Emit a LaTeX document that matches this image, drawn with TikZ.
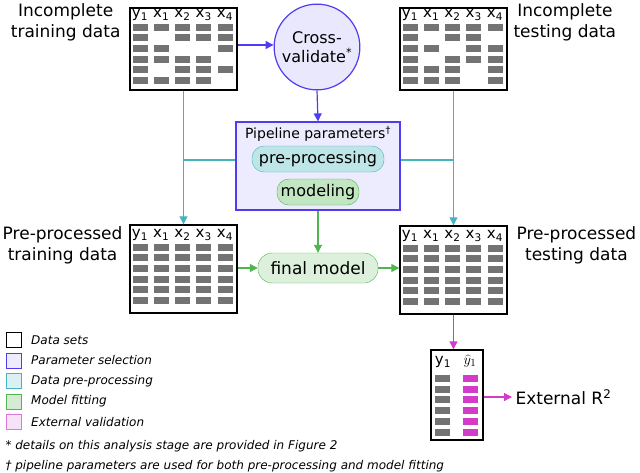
\documentclass[tikz,border=0pt]{standalone}
\usepackage{fontspec}
\setmainfont{DejaVu Sans}
\usetikzlibrary{positioning,arrows.meta,shapes.geometric}

\definecolor{cvblue}{RGB}{80,60,240}
\definecolor{ppcyan}{RGB}{70,180,190}
\definecolor{mfgreen}{RGB}{80,180,80}
\definecolor{evpink}{RGB}{210,60,200}

% grey cells of a data table, one entry per cell (1 = present)
\newcommand{\tablecells}[3]{%
  \foreach \row [count=\r] in {#3}{
    \foreach \v [count=\c] in \row {
      \ifnum\v=1
        \fill[cell] ({#1+10+(\c-1)*21.25-7.5},{#2+19+(\r-1)*10.7-3.5}) rectangle ++(15,7);
      \fi
    }
  }
}
\newcommand{\tablehead}[2]{%
  \foreach \h [count=\c] in {y\textsubscript{1},x\textsubscript{1},x\textsubscript{2},x\textsubscript{3},x\textsubscript{4}}
    \node[head] at ({#1+10+(\c-1)*21.25},{#2+7}) {\h};
}

\begin{document}
\begin{tikzpicture}[
    x=1pt, y=-1pt,
    dataset/.style={draw, line width=1.4pt, fill=white, minimum width=107pt, minimum height=82pt, inner sep=0pt},
    cell/.style={fill=black!55},
    head/.style={font=\fontsize{15}{16}\selectfont, inner sep=0pt},
    label/.style={font=\fontsize{17}{21}\selectfont, align=center},
    legend/.style={font=\fontsize{12}{14}\selectfont\itshape, anchor=west},
    legbox/.style={minimum size=15pt, inner sep=0pt, draw},
    oval/.style={rounded corners=12pt, draw, font=\fontsize{16}{18}\selectfont, inner sep=1pt},
    cvarrow/.style={-{Triangle[length=8pt,width=8pt]}, line width=1.2pt, cvblue},
    pparrow/.style={-{Triangle[length=8pt,width=8pt]}, line width=1.2pt, ppcyan},
    mfarrow/.style={-{Triangle[length=8pt,width=8pt]}, line width=1.2pt, mfgreen},
    evarrow/.style={-{Triangle[length=8pt,width=8pt]}, line width=1.2pt, evpink}
]
\useasboundingbox (0,0) rectangle (640,472);

% Data tables
\node[dataset] (train) at (183.5,49) {};
\tablehead{130}{8}
\tablecells{130}{8}{{1,1,1,1,1},{1,0,1,1,1},{1,1,0,0,1},{1,1,1,1,0},{1,0,1,1,1},{1,1,1,1,0}}
\node[dataset] (test) at (453.5,49) {};
\tablehead{400}{8}
\tablecells{400}{8}{{1,1,1,1,1},{1,0,1,1,0},{1,1,0,1,1},{1,0,1,1,1},{1,1,1,0,1},{1,1,1,0,1}}
\node[dataset, minimum height=88pt] (pptrain) at (183.5,269) {};
\tablehead{130}{228}
\tablecells{130}{228}{{1,1,1,1,1},{1,1,1,1,1},{1,1,1,1,1},{1,1,1,1,1},{1,1,1,1,1},{1,1,1,1,1}}
\node[dataset, minimum height=88pt] (pptest) at (453.5,270) {};
\tablehead{400}{229}
\tablecells{400}{229}{{1,1,1,1,1},{1,1,1,1,1},{1,1,1,1,1},{1,1,1,1,1},{1,1,1,1,1},{1,1,1,1,1}}

% Table labels
\node[label, anchor=east] at (124,22) {Incomplete\\training data};
\node[label, anchor=west] at (510,22) {Incomplete\\testing data};
\node[label, anchor=east] at (126,245) {Pre-processed\\training data};
\node[label, anchor=west] at (513,245) {Pre-processed\\testing data};

% Parameter selection
\node[circle, draw=cvblue, line width=1.2pt, fill=cvblue!12, minimum size=84pt, align=center,
      font=\fontsize{16}{19}\selectfont] (cv) at (317,47) {Cross-\\validate\textsuperscript{*}};
\node[draw=cvblue, line width=1.2pt, fill=cvblue!10, minimum width=164pt, minimum height=88pt] (pipe) at (318,166) {};
\node[font=\fontsize{14}{16}\selectfont, below=1pt of pipe.north] {Pipeline parameters\textsuperscript{\dag}};
\node[oval, draw=ppcyan, fill=ppcyan!35, minimum width=132pt, minimum height=26pt] (prep) at (318,159) {pre-processing};
\node[oval, draw=mfgreen, fill=mfgreen!35, minimum width=82pt, minimum height=26pt] (model) at (318,192) {modeling};
\node[oval, draw=mfgreen, fill=mfgreen!20, rounded corners=14pt, minimum width=120pt, minimum height=30pt,
      font=\fontsize{17}{19}\selectfont] (final) at (318,268) {final model};

% External validation table
\node[draw, line width=1.4pt, fill=white, minimum width=52pt, minimum height=90pt, inner sep=0pt] (pred) at (457,395) {};
\node[head] at (443,362) {y\textsubscript{1}};
\node[head] at (470,361) {$\widehat{y}_1$};
\foreach \r in {1,...,6}{
  \fill[cell] (435,{375+(\r-1)*10.7}) rectangle ++(15,7);
  \fill[evpink] (463,{375+(\r-1)*10.7}) rectangle ++(15,7);
}
\node[label, anchor=west] (r2) at (512,397) {External R\textsuperscript{2}};

% Connectors
\draw[cvarrow] (train.east |- 0,45) -- (cv.west |- 0,45);
\draw[cvarrow] (cv.south) -- (pipe.north);
\draw[pparrow] (train.south) -- (pptrain.north);
\draw[pparrow] (test.south) -- (pptest.north);
\draw[line width=1.2pt, ppcyan] (pipe.west |- 0,160) -- (train.south |- 0,160);
\draw[line width=1.2pt, ppcyan] (pipe.east |- 0,160) -- (test.south |- 0,160);
\draw[mfarrow] (pipe.south) -- (final.north);
\draw[mfarrow] (pptrain.east |- final) -- (final.west);
\draw[mfarrow] (final.east) -- (pptest.west |- final);
\draw[evarrow] (pptest.south) -- (pred.north -| pptest.south);
\draw[evarrow] (pred.east |- r2) -- (r2.west);

% Legend
\node[legbox, draw=black, fill=white] (l1) at (14,340) {};
\node[legbox, draw=cvblue, fill=cvblue!10, below=5pt of l1] (l2) {};
\node[legbox, draw=ppcyan, fill=ppcyan!20, below=5pt of l2] (l3) {};
\node[legbox, draw=mfgreen, fill=mfgreen!25, below=5pt of l3] (l4) {};
\node[legbox, draw=evpink!70, fill=evpink!15, below=5pt of l4] (l5) {};
\node[legend, right=6pt of l1] {Data sets};
\node[legend, right=6pt of l2] {Parameter selection};
\node[legend, right=6pt of l3] {Data pre-processing};
\node[legend, right=6pt of l4] {Model fitting};
\node[legend, right=6pt of l5] {External validation};
\node[legend, anchor=west] (fn1) at (2,446) {* details on this analysis stage are provided in Figure 2};
\node[legend, anchor=west] (fn2) at (2,466) {\dag\ pipeline parameters are used for both pre-processing and model fitting};
\end{tikzpicture}
\end{document}
